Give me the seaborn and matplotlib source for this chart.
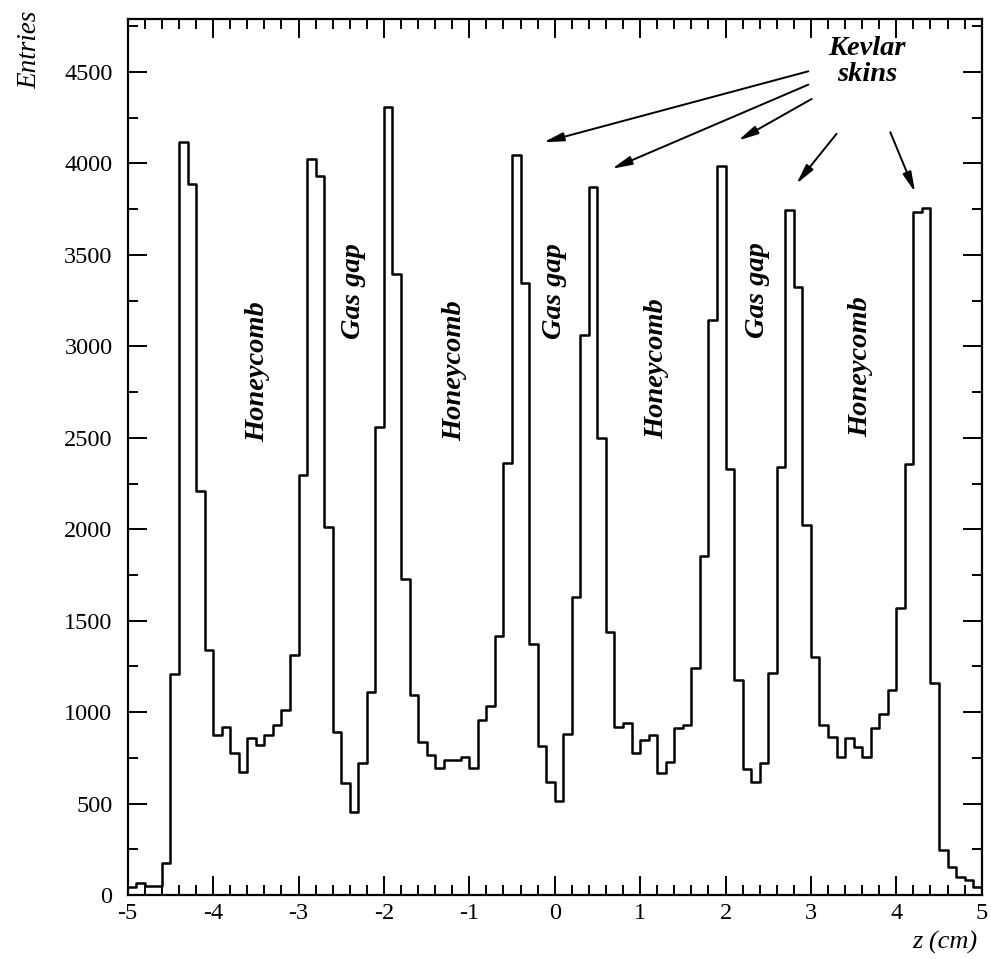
import numpy as np
import pandas as pd
import matplotlib
matplotlib.use('Agg')
import matplotlib.pyplot as plt
from matplotlib.ticker import MultipleLocator
import seaborn as sns

# --- data: 100 bins of 0.1 cm from -5 to 5 ---
bin_lo, bin_hi, bin_w = -5.0, 5.0, 0.1
entries = [
    42, 67, 49, 49, 173, 1211, 4120, 3890, 2209, 1339,
    874, 920, 774, 674, 856, 823, 874, 929, 1011, 1311,
    2295, 4025, 3929, 2013, 893, 610, 455, 720, 1111, 2559,
    4311, 3397, 1730, 1093, 838, 765, 692, 738, 738, 756,
    692, 956, 1035, 1417, 2362, 4049, 3348, 1375, 814, 619,
    515, 883, 1630, 3060, 3871, 2501, 1439, 920, 938, 774,
    847, 874, 668, 729, 911, 929, 1239, 1853, 3142, 3984,
    2332, 1175, 687, 619, 723, 1215, 2341, 3746, 3324, 2022,
    1302, 929, 865, 756, 856, 811, 756, 916, 989, 1120,
    1570, 2359, 3734, 3756, 1160, 246, 151, 97, 82, 46,
]

region_labels = ['Honeycomb', 'Gas gap', 'Honeycomb', 'Gas gap',
                 'Honeycomb', 'Gas gap', 'Honeycomb']
region_x = [-3.48, -2.36, -1.17, 0.0, 1.19, 2.38, 3.58]
region_y = [2860, 3300, 2870, 3300, 2880, 3310, 2890]

# kevlar skin arrows: (tail x, tail y, head x, head y)
arrow_tail_x = [2.97, 2.97, 3.01, 3.30, 3.93]
arrow_tail_y = [4504, 4431, 4353, 4162, 4171]
arrow_head_x = [-0.13, 0.67, 2.15, 2.83, 4.22]
arrow_head_y = [4116, 3971, 4126, 3889, 3843]

centers = bin_lo + bin_w * (np.arange(len(entries)) + 0.5)
df = pd.DataFrame({'z': centers, 'n': entries})

# --- style ---
sns.set_theme(style='ticks')
plt.rcParams['font.family'] = ['Liberation Serif', 'DejaVu Serif']
plt.rcParams['text.color'] = 'black'
plt.rcParams['xtick.color'] = 'black'
plt.rcParams['ytick.color'] = 'black'

fig = plt.figure(figsize=(9.91, 9.59), dpi=100)
ax = fig.add_axes([0.1289, 0.0667, 0.8617, 0.9135])

sns.histplot(data=df, x='z', weights='n', binwidth=bin_w,
             binrange=(bin_lo, bin_hi), element='step',
             fill=False, color='black', linewidth=1.8, ax=ax)

ax.set_xlim(bin_lo, bin_hi)
ax.set_ylim(0, 4790)
ax.set_xlabel('')
ax.set_ylabel('')

ax.xaxis.set_major_locator(MultipleLocator(1))
ax.xaxis.set_minor_locator(MultipleLocator(0.2))
ax.yaxis.set_major_locator(MultipleLocator(500))
ax.yaxis.set_minor_locator(MultipleLocator(250))
ax.tick_params(which='both', direction='in', top=True, right=True,
               colors='black', width=1.4)
ax.tick_params(which='major', length=14)
ax.tick_params(which='minor', length=7)
ax.tick_params(axis='y', labelsize=17.5, pad=11)
ax.tick_params(axis='x', labelsize=17.5, pad=6)
for s in ax.spines.values():
    s.set_linewidth(1.6)
    s.set_color('black')

ax.set_xticks(range(-5, 6))
ax.set_xticklabels([str(v) for v in range(-5, 6)])

# region names
for lab, x, y in zip(region_labels, region_x, region_y):
    ax.text(x, y, lab, rotation=90, ha='center', va='center',
            fontsize=20.5, fontweight='bold', style='italic', color='black')

# Kevlar skins
ax.text(3.66, 4560, 'Kevlar\nskins', ha='center', va='center',
        fontsize=20.5, fontweight='bold', style='italic', linespacing=1.05,
        color='black')
for tx, ty, hx, hy in zip(arrow_tail_x, arrow_tail_y, arrow_head_x, arrow_head_y):
    ax.annotate('', xy=(hx, hy), xytext=(tx, ty),
                arrowprops=dict(arrowstyle='-|>,head_length=1.0,head_width=0.22',
                                color='black', lw=1.4, shrinkA=0, shrinkB=0))

fig.text(0.986, 1 - 942 / 959, 'z (cm)', ha='right', va='center',
         fontsize=19, style='italic')
fig.text(30 / 991, 1 - 50 / 959, 'Entries', rotation=90, ha='center',
         va='center', fontsize=19.5, style='italic')

fig.savefig('out.png', dpi=100, facecolor='white')
